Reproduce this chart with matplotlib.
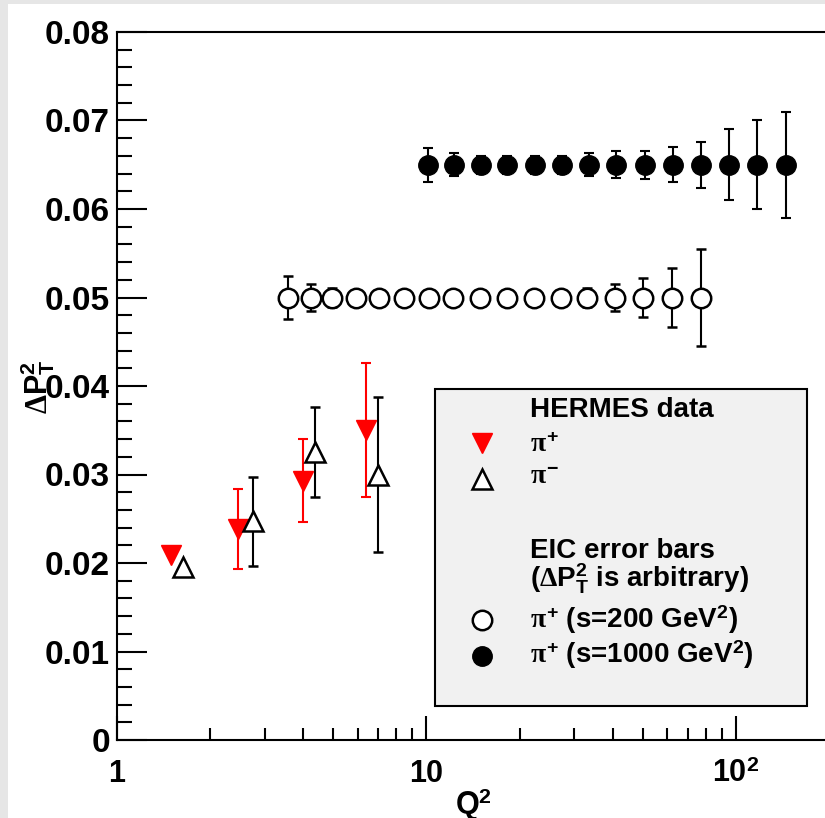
import numpy as np
import matplotlib
matplotlib.use("Agg")
import matplotlib.pyplot as plt
from matplotlib.lines import Line2D
from matplotlib.patches import Rectangle
from matplotlib.ticker import FixedLocator, LogLocator, NullFormatter

plt.rcParams["font.family"] = ["Liberation Sans", "DejaVu Sans"]
plt.rcParams["font.weight"] = "bold"
plt.rcParams["mathtext.fontset"] = "custom"
plt.rcParams["mathtext.rm"] = "Liberation Sans:bold"
plt.rcParams["mathtext.bf"] = "Liberation Sans:bold"
plt.rcParams["mathtext.it"] = "Liberation Serif"
plt.rcParams["mathtext.sf"] = "Liberation Serif"

# HERMES pi+ (red down triangles)
hermes_pip_q2 = [1.50, 2.46, 3.98, 6.40]
hermes_pip_val = [0.0209, 0.02385, 0.0293, 0.03505]
hermes_pip_err = [0.0, 0.00455, 0.0047, 0.00755]

# HERMES pi- (open up triangles)
hermes_pim_q2 = [1.64, 2.75, 4.38, 6.95]
hermes_pim_val = [0.0195, 0.0247, 0.03255, 0.0300]
hermes_pim_err = [0.0, 0.0050, 0.00505, 0.0088]

# EIC projections, s = 200 GeV^2
eic200_q2 = [3.56, 4.23, 4.94, 5.90, 7.05, 8.49, 10.2, 12.2, 14.9, 18.2,
             22.3, 27.2, 33.1, 40.7, 50.1, 62.2, 77.1]
eic200_val = [0.05] * 17
eic200_err = [0.0024, 0.0015, 0.0011, 0.0005, 0.0005, 0.0005, 0.0005, 0.0005,
              0.0005, 0.0005, 0.0005, 0.0005, 0.0011, 0.0015, 0.00225, 0.0033, 0.0055]

# EIC projections, s = 1000 GeV^2
eic1000_q2 = [10.15, 12.3, 15.0, 18.2, 22.5, 27.5, 33.5, 41.0, 50.9, 62.6,
              77.1, 94.9, 116.8, 145.0]
eic1000_val = [0.065] * 14
eic1000_err = [0.0019, 0.0013, 0.0010, 0.0010, 0.0010, 0.0010, 0.0013, 0.0015,
               0.0016, 0.0020, 0.0026, 0.0040, 0.0050, 0.0060]

xtick_vals = [1, 10, 100]
xtick_labels = ["1", "10", r"$10^{2}$"]
ytick_vals = [0, 0.01, 0.02, 0.03, 0.04, 0.05, 0.06, 0.07, 0.08]
ytick_labels = ["0", "0.01", "0.02", "0.03", "0.04", "0.05", "0.06", "0.07", "0.08"]

W, H = 825, 818
fx = lambda px: px / W
fy = lambda py: 1 - py / H

fig = plt.figure(figsize=(W / 100, H / 100), dpi=100, facecolor="#e6e6e6")
fig.add_artist(Rectangle((fx(8), 0), 1, fy(4), transform=fig.transFigure,
                         facecolor="white", edgecolor="none", zorder=-10))

ax = fig.add_axes([fx(117), 78 / H, 712 / W, 708 / H])
ax.set_xscale("log")
ax.set_xlim(1, 200)
ax.set_ylim(0, 0.08)
for s in ["left", "bottom", "top"]:
    ax.spines[s].set_linewidth(1.5)
ax.spines["right"].set_visible(False)

ax.xaxis.set_major_locator(FixedLocator(xtick_vals))
ax.set_xticklabels(xtick_labels)
ax.xaxis.set_minor_locator(LogLocator(base=10, subs=np.arange(2, 10)))
ax.xaxis.set_minor_formatter(NullFormatter())
ax.yaxis.set_major_locator(FixedLocator(ytick_vals))
ax.set_yticklabels(ytick_labels)
ax.yaxis.set_minor_locator(FixedLocator(np.arange(0, 0.0801, 0.002)))

ax.tick_params(axis="both", which="both", direction="in", top=False, right=False, width=1.5)
ax.tick_params(axis="x", which="major", length=17, pad=14, labelsize=22)
ax.tick_params(axis="x", which="minor", length=8.5)
ax.tick_params(axis="y", which="major", length=21.5, pad=5, labelsize=24)
ax.tick_params(axis="y", which="minor", length=11)

eb = dict(capsize=3.3, elinewidth=1.5, capthick=1.5, ms=14, linestyle="none")
ax.errorbar(hermes_pip_q2, hermes_pip_val, yerr=hermes_pip_err, fmt="v",
            color="red", ecolor="red", **eb)
ax.errorbar(hermes_pim_q2, hermes_pim_val, yerr=hermes_pim_err, fmt="^",
            color="black", mfc="white", mec="black", mew=1.8, **eb)
ax.errorbar(eic200_q2, eic200_val, yerr=eic200_err, fmt="o",
            color="black", mfc="white", mec="black", mew=1.8, **eb)
ax.errorbar(eic1000_q2, eic1000_val, yerr=eic1000_err, fmt="o",
            color="black", mfc="black", mec="black", **eb)

# axis titles
fig.text(fx(38), fy(387), r"$\mathsf{\Delta}\mathrm{P}_{\mathrm{T}}^{\mathrm{2}}$",
         rotation=90, ha="center", va="center", fontsize=22)
fig.text(fx(455), fy(814), r"Q$^{2}$", ha="left", va="baseline", fontsize=22)

# legend box
fig.add_artist(Rectangle((fx(435), fy(706)), 372 / W, 317 / H, transform=fig.transFigure,
                         facecolor="#f1f1f1", edgecolor="black", linewidth=1.5, zorder=1))
tx = fx(530)
fs = 20
fig.text(tx, fy(417), "HERMES data", fontsize=fs, va="baseline")
fig.text(tx, fy(452), r"$\pi^{+}$", fontsize=fs, va="baseline")
fig.text(tx, fy(484), r"$\pi^{-}$", fontsize=fs, va="baseline")
fig.text(tx, fy(558), "EIC error bars", fontsize=fs, va="baseline")
fig.text(tx, fy(587), r"($\mathsf{\Delta}\mathrm{P}_{\mathrm{T}}^{\mathrm{2}}$ is arbitrary)",
         fontsize=fs, va="baseline")
fig.text(tx, fy(628), r"$\pi^{+}$ (s=200 GeV$^{2}$)", fontsize=fs, va="baseline")
fig.text(tx, fy(663), r"$\pi^{+}$ (s=1000 GeV$^{2}$)", fontsize=fs, va="baseline")

mx = [fx(482)]
fig.add_artist(Line2D(mx, [fy(443)], marker="v", ms=14, color="red", linestyle="none",
                      transform=fig.transFigure, zorder=2))
fig.add_artist(Line2D(mx, [fy(479)], marker="^", ms=14, mfc="white", mec="black", mew=1.8,
                      linestyle="none", transform=fig.transFigure, zorder=2))
fig.add_artist(Line2D(mx, [fy(620)], marker="o", ms=14, mfc="white", mec="black", mew=1.8,
                      linestyle="none", transform=fig.transFigure, zorder=2))
fig.add_artist(Line2D(mx, [fy(656)], marker="o", ms=14, mfc="black", mec="black",
                      linestyle="none", transform=fig.transFigure, zorder=2))

fig.savefig("out.png", dpi=100, facecolor=fig.get_facecolor())
